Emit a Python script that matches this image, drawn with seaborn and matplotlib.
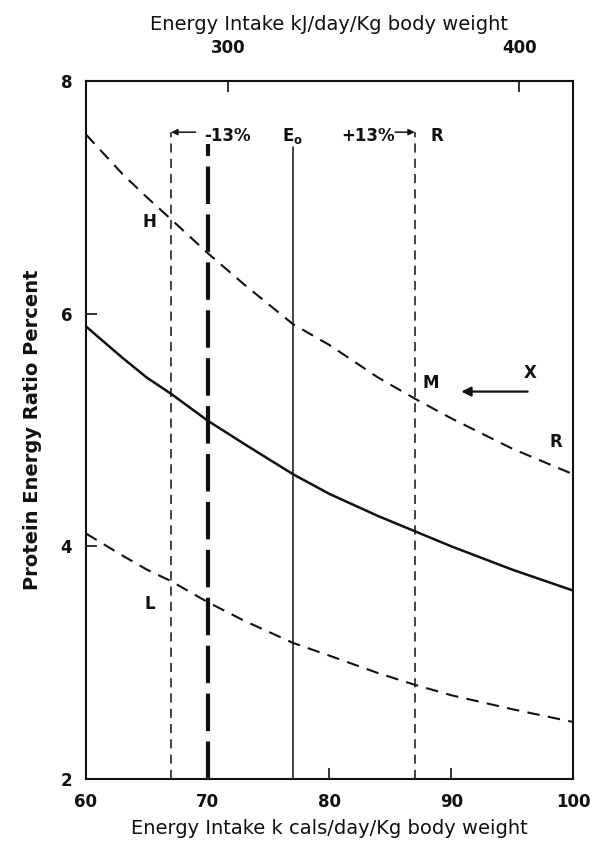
import matplotlib
matplotlib.use("Agg")
import matplotlib.pyplot as plt
import seaborn as sns
import pandas as pd

# ---- data ----
kcal = [60, 63, 65, 67, 70, 73, 77, 80, 84, 87, 90, 95, 100]
ratio_high = [7.54, 7.20, 7.00, 6.81, 6.52, 6.25, 5.91, 5.73, 5.45, 5.27, 5.10, 4.84, 4.62]
ratio_mid = [5.89, 5.62, 5.45, 5.31, 5.08, 4.88, 4.62, 4.45, 4.26, 4.13, 4.00, 3.80, 3.62]
ratio_low = [4.11, 3.92, 3.80, 3.70, 3.52, 3.36, 3.17, 3.06, 2.91, 2.81, 2.72, 2.60, 2.49]

e_minus = 67      # -13%
e_mark = 70       # heavy dashed marker
e_zero = 77       # E0
e_plus = 87       # +13% (R)

x_ticks = [60, 70, 80, 90, 100]
y_ticks = [2, 4, 6, 8]
kj_ticks = [300, 400]
KJ_PER_KCAL = 4.184

df = pd.DataFrame({"kcal": kcal, "H": ratio_high, "M": ratio_mid, "L": ratio_low})

sns.set_theme(style="ticks")
plt.rcParams["font.family"] = ["DejaVu Sans"]

fig = plt.figure(figsize=(6.0, 8.55), dpi=100)
ax = fig.add_axes([0.1433, 0.0889, 0.955 - 0.1433, 0.9053 - 0.0889])

ink = "#111111"
sns.lineplot(data=df, x="kcal", y="H", ax=ax, color=ink, lw=1.5,
             linestyle=(0, (6, 4)))
sns.lineplot(data=df, x="kcal", y="M", ax=ax, color=ink, lw=1.8)
sns.lineplot(data=df, x="kcal", y="L", ax=ax, color=ink, lw=1.5,
             linestyle=(0, (6, 4)))

top_v = 7.56
ax.plot([e_minus, e_minus], [2, top_v], color=ink, lw=1.1, linestyle=(0, (6, 4)))
ax.plot([e_plus, e_plus], [2, top_v], color=ink, lw=1.1, linestyle=(0, (6, 4)))
ax.plot([e_mark, e_mark], [2, 7.46], color=ink, lw=3.0, linestyle=(0, (9, 2.5)))
ax.plot([e_zero, e_zero], [2, 7.43], color=ink, lw=1.1)

# arrows
ax.annotate("", xy=(e_minus, top_v), xytext=(69.0, top_v),
            arrowprops=dict(arrowstyle="-|>", color=ink, lw=1.1, mutation_scale=9,
                            shrinkA=0, shrinkB=0))
ax.annotate("", xy=(e_plus, top_v), xytext=(85.4, top_v),
            arrowprops=dict(arrowstyle="-|>", color=ink, lw=1.1, mutation_scale=9,
                            shrinkA=0, shrinkB=0))
ax.annotate("", xy=(90.6, 5.33), xytext=(96.5, 5.33),
            arrowprops=dict(arrowstyle="-|>", color=ink, lw=1.6, mutation_scale=14))

lab = dict(color=ink, fontsize=12, fontweight="bold", va="center")
ax.text(69.7, 7.53, "-13%", ha="left", **lab)
ax.text(e_zero, 7.53, "E$_\\mathbf{o}$", ha="center", **lab)
ax.text(83.2, 7.53, "+13%", ha="center", **lab)
ax.text(88.8, 7.53, "R", ha="center", **lab)
ax.text(65.25, 6.79, "H", ha="center", **lab)
ax.text(65.25, 3.50, "L", ha="center", **lab)
ax.text(88.3, 5.40, "M", ha="center", **lab)
ax.text(96.5, 5.49, "X", ha="center", **lab)
ax.text(98.6, 4.90, "R", ha="center", **lab)

ax.set_xlim(60, 100)
ax.set_ylim(2, 8)
ax.set_xticks(x_ticks)
ax.set_yticks(y_ticks)
ax.set_xticklabels([str(v) for v in x_ticks])
ax.set_yticklabels([str(v) for v in y_ticks])
ax.tick_params(direction="in", length=8, width=1.2, colors=ink,
               labelsize=12, pad=10)
for t in ax.get_xticklabels() + ax.get_yticklabels():
    t.set_fontweight("bold")
for s in ax.spines.values():
    s.set_visible(True)
    s.set_linewidth(1.5)
    s.set_color(ink)

ax.set_xlabel("Energy Intake k cals/day/Kg body weight", fontsize=14,
              color=ink, labelpad=6)
ax.set_ylabel("Protein Energy Ratio Percent", fontsize=14,
              fontweight="bold", color=ink, labelpad=13)

sec = ax.secondary_xaxis("top", functions=(lambda k: k * KJ_PER_KCAL,
                                           lambda j: j / KJ_PER_KCAL))
sec.set_xticks(kj_ticks)
sec.set_xticklabels([str(v) for v in kj_ticks])
sec.tick_params(direction="in", length=8, width=1.2, colors=ink,
                labelsize=12, pad=17)
for t in sec.get_xticklabels():
    t.set_fontweight("bold")
sec.set_xlabel("Energy Intake kJ/day/Kg body weight", fontsize=14,
               color=ink, labelpad=7)

fig.savefig("out.png", dpi=100, facecolor="white")
